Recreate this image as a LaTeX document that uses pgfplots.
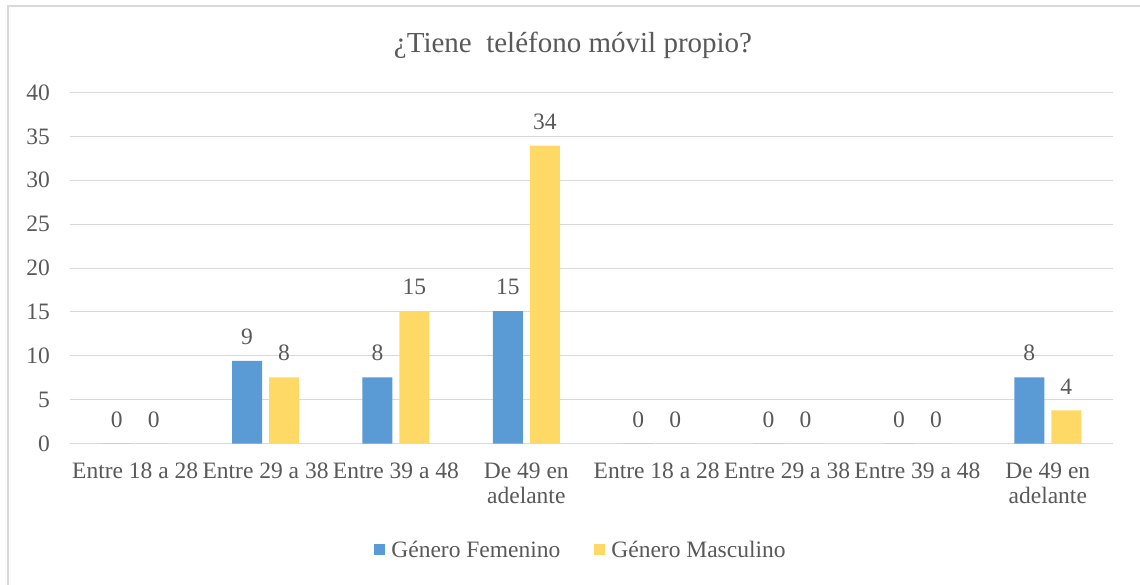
\documentclass[border=0pt]{standalone}
\usepackage{fontspec}
\setmainfont{Liberation Serif}
\usepackage{pgfplots}
\pgfplotsset{compat=1.18}
\definecolor{fem}{HTML}{5B9BD5}
\definecolor{mas}{HTML}{FFD966}
\definecolor{txt}{HTML}{595959}
\definecolor{grd}{HTML}{D9D9D9}
\begin{document}
\begin{tikzpicture}
\useasboundingbox (0pt,0pt) rectangle (1140pt,584pt);
\fill[white] (0pt,0pt) rectangle (1140pt,584pt);
\draw[grd, line width=1.5pt] (8pt,-5pt) -- (8pt,578pt) -- (1145pt,578pt);
\node[anchor=base, text=txt, font=\fontsize{29}{31}\selectfont] at (573pt,531pt) {¿Tiene\ \ teléfono móvil propio?};
\begin{axis}[
  at={(70pt,140.5pt)}, anchor=south west,
  scale only axis, width=1043pt, height=351pt,
  ybar=7pt, bar width=30pt,
  xmin=-0.5, xmax=7.5, ymin=0, ymax=40,
  ytick={0,5,...,40},
  xtick={0,...,7},
  xticklabels={Entre 18 a 28,Entre 29 a 38,Entre 39 a 48,De 49 en\\adelante,Entre 18 a 28,Entre 29 a 38,Entre 39 a 48,De 49 en\\adelante},
  axis line style={draw=none},
  major tick length=0pt,
  ymajorgrids, grid style={grd, line width=1pt},
  /pgf/number format/assume math mode=true,
  tick label style={text=txt, font=\fontsize{23.5}{25}\selectfont},
  yticklabel style={anchor=east, inner sep=0pt, xshift=-20pt},
  xticklabel style={anchor=north, inner sep=0pt, yshift=-19pt, align=center},
  nodes near coords,
  nodes near coords style={text=txt, font=\fontsize{23.5}{25}\selectfont, anchor=south, inner sep=0pt, yshift=16pt,
    /pgf/number format/.cd, fixed, precision=0, assume math mode=true},
  legend style={at={(0.489,-0.303)}, anchor=center, draw=none, fill=none,
    legend columns=2, font=\fontsize{23.5}{25}\selectfont, text=txt,
    /tikz/every even column/.append style={column sep=34pt},
    nodes={inner sep=0pt, text=txt}},
  legend image code/.code={\fill[#1] (0pt,-5.5pt) rectangle (11pt,5.5pt); \path (17pt,0pt);},
]
\addplot[fill=fem, draw=none] coordinates {(0,0) (1,9.43) (2,7.55) (3,15.09) (4,0) (5,0) (6,0) (7,7.55)};
\addplot[fill=mas, draw=none] coordinates {(0,0) (1,7.55) (2,15.09) (3,33.96) (4,0) (5,0) (6,0) (7,3.77)};
\legend{Género Femenino, Género Masculino}
\end{axis}
\end{tikzpicture}
\end{document}
